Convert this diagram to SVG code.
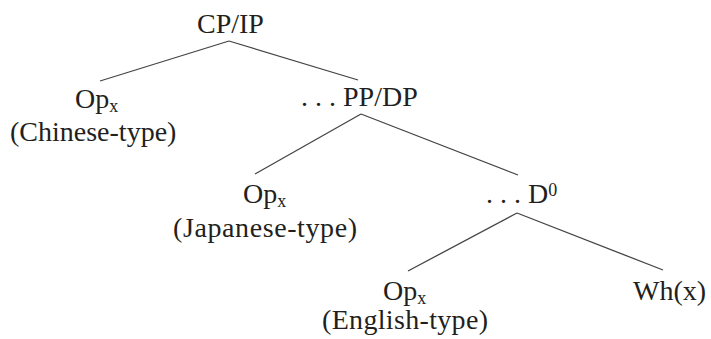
<svg xmlns="http://www.w3.org/2000/svg" width="711" height="339" viewBox="0 0 711 339">
<style>
text { font-family: "Liberation Serif", "Times New Roman", serif; font-size: 28px; fill: #231f20; }
.sub { font-size: 18px; }
.edges line { stroke: #444; stroke-width: 1.3; }
</style>
<rect width="711" height="339" fill="#fff"/>
<g class="edges" id="connectors">
<line x1="229" y1="41" x2="100" y2="81"/>
<line x1="229" y1="41" x2="358" y2="80"/>
<line x1="361" y1="114" x2="255" y2="174"/>
<line x1="361" y1="114" x2="518" y2="175"/>
<line x1="517" y1="213" x2="408" y2="271"/>
<line x1="517" y1="213" x2="663" y2="270"/>
</g>
<g id="cpip"><text x="197" y="33">CP/IP</text></g>
<g id="op-chinese"><text x="75" y="108">Op<tspan class="sub" dy="4">x</tspan></text><text x="10" y="141">(Chinese-type)</text></g>
<g id="ppdp"><text x="301" y="106">. . . PP/DP</text></g>
<g id="op-japanese"><text x="243" y="203">Op<tspan class="sub" dy="4">x</tspan></text><text x="173" y="237" textLength="184" lengthAdjust="spacing">(Japanese-type)</text></g>
<g id="d0"><text x="486" y="203">. . . D<tspan class="sub" dy="-7">0</tspan></text></g>
<g id="op-english"><text x="383" y="300">Op<tspan class="sub" dy="4">x</tspan></text><text x="322" y="329" textLength="166" lengthAdjust="spacing">(English-type)</text></g>
<g id="whx"><text x="633" y="300">Wh(x)</text></g>
</svg>
